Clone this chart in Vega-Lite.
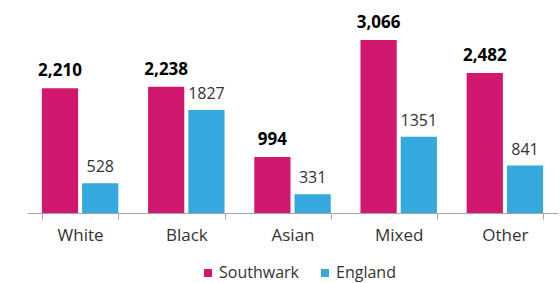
{
  "$schema": "https://vega.github.io/schema/vega-lite/v6.json",
  "autosize": "none",
  "width": 531,
  "height": 213,
  "padding": {"left": 27, "top": 0, "right": 2, "bottom": 70},
  "background": "white",
  "config": {
    "font": "Open Sans",
    "view": {"stroke": null}
  },
  "data": {
    "values": [
      {"group": "White", "series": "Southwark", "value": 2210},
      {"group": "White", "series": "England", "value": 528},
      {"group": "Black", "series": "Southwark", "value": 2238},
      {"group": "Black", "series": "England", "value": 1827},
      {"group": "Asian", "series": "Southwark", "value": 994},
      {"group": "Asian", "series": "England", "value": 331},
      {"group": "Mixed", "series": "Southwark", "value": 3066},
      {"group": "Mixed", "series": "England", "value": 1351},
      {"group": "Other", "series": "Southwark", "value": 2482},
      {"group": "Other", "series": "England", "value": 841}
    ]
  },
  "encoding": {
    "x": {
      "field": "group",
      "type": "nominal",
      "sort": ["White", "Black", "Asian", "Mixed", "Other"],
      "scale": {"paddingInner": 0.28, "paddingOuter": 0.14},
      "axis": {
        "title": null,
        "labelAngle": 0,
        "labelFontSize": 17,
        "labelColor": "#333333",
        "labelPadding": 8,
        "domainColor": "#a6a6a6",
        "tickColor": "#a6a6a6",
        "tickBand": "extent",
        "tickSize": 6,
        "labelFont": "Open Sans"
      }
    },
    "xOffset": {
      "field": "series",
      "type": "nominal",
      "sort": ["Southwark", "England"],
      "scale": {"paddingInner": 0.1}
    },
    "y": {
      "field": "value",
      "type": "quantitative",
      "scale": {"domain": [0, 3776], "nice": false},
      "axis": null
    }
  },
  "layer": [
    {
      "mark": {"type": "bar"},
      "encoding": {
        "color": {
          "field": "series",
          "type": "nominal",
          "sort": ["Southwark", "England"],
          "scale": {"domain": ["Southwark", "England"], "range": ["#D2176E", "#35A9DD"]},
          "legend": {
            "title": null,
            "orient": "none",
            "legendX": 173,
            "legendY": 265,
            "direction": "horizontal",
            "symbolType": "square",
            "symbolSize": 64,
            "symbolStrokeWidth": 0,
            "labelFontSize": 16,
            "labelColor": "#333333",
            "labelFont": "Open Sans",
            "labelOffset": 3,
            "columnPadding": 18,
            "symbolOffset": 0,
            "padding": 0
          }
        }
      }
    },
    {
      "transform": [{"filter": "datum.series === 'Southwark'"}],
      "mark": {"type": "text", "baseline": "alphabetic", "dy": -12, "fontSize": 17, "fontWeight": "bold", "color": "#000000", "font": "Open Sans"},
      "encoding": {
        "text": {"field": "value", "type": "quantitative", "format": ","}
      }
    },
    {
      "transform": [{"filter": "datum.series === 'England'"}],
      "mark": {"type": "text", "baseline": "alphabetic", "dy": -11, "fontSize": 16, "color": "#333333", "font": "Open Sans"},
      "encoding": {
        "text": {"field": "value", "type": "quantitative", "format": "d"}
      }
    }
  ]
}
